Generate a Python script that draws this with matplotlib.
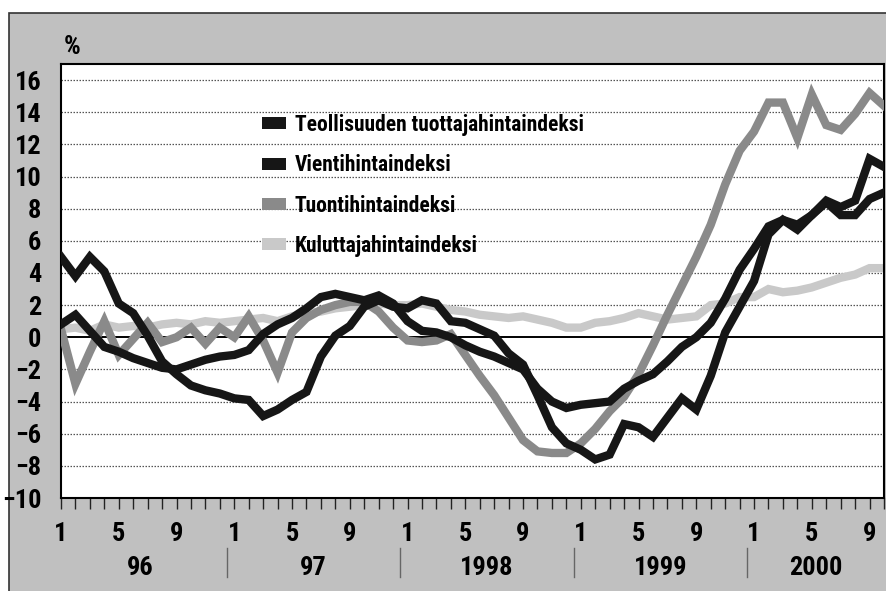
import matplotlib
matplotlib.use("Agg")
import matplotlib.pyplot as plt
from matplotlib import font_manager
from matplotlib.patches import Patch, Rectangle
import matplotlib.transforms as mtransforms
import numpy as np

# monthly observations, Jan 1996 .. Oct 2000
months = np.arange(58)

tuottaja = [0.8, 1.4, 0.4, -0.6, -0.9, -1.3, -1.6, -1.9, -2.0, -1.7,
            -1.4, -1.2, -1.1, -0.8, 0.2, 0.8, 1.2, 1.8, 2.5, 2.7,
            2.5, 2.3, 2.6, 2.1, 1.0, 0.4, 0.3, 0.0, -0.5, -0.9,
            -1.2, -1.6, -2.0, -3.2, -4.0, -4.4, -4.2, -4.1, -4.0, -3.2,
            -2.7, -2.3, -1.5, -0.6, 0.0, 0.9, 2.4, 4.2, 5.5, 6.9,
            7.3, 7.0, 7.6, 8.4, 7.6, 7.6, 8.6, 9.0]
vienti = [5.0, 3.8, 5.0, 4.1, 2.1, 1.5, 0.1, -1.5, -2.3, -3.0,
          -3.3, -3.5, -3.8, -3.9, -4.9, -4.5, -3.9, -3.4, -1.2, 0.1,
          0.7, 1.9, 2.3, 1.9, 1.8, 2.3, 2.1, 1.0, 0.9, 0.5,
          0.1, -1.0, -1.7, -3.6, -5.6, -6.6, -7.0, -7.6, -7.3, -5.4,
          -5.6, -6.2, -5.0, -3.8, -4.5, -2.4, 0.3, 1.9, 3.5, 6.4,
          7.3, 6.7, 7.6, 8.5, 8.1, 8.5, 11.1, 10.6]
tuonti = [0.5, -2.9, -0.9, 1.0, -1.1, -0.1, 0.9, -0.3, 0.0, 0.6,
          -0.4, 0.6, 0.0, 1.3, -0.2, -2.2, 0.3, 1.2, 1.7, 2.0,
          2.2, 2.2, 1.6, 0.6, -0.2, -0.3, -0.2, 0.2, -1.1, -2.4,
          -3.6, -5.0, -6.4, -7.1, -7.2, -7.2, -6.6, -5.7, -4.6, -3.7,
          -2.3, -0.5, 1.4, 3.2, 5.0, 7.0, 9.5, 11.6, 12.8, 14.6,
          14.6, 12.4, 15.1, 13.2, 12.9, 13.9, 15.2, 14.4]
kuluttaja = [0.5, 0.6, 0.4, 0.8, 0.6, 0.7, 0.6, 0.8, 0.9, 0.8,
             1.0, 0.9, 1.0, 1.1, 1.2, 1.0, 1.3, 1.5, 1.6, 1.8,
             1.9, 2.0, 2.1, 2.0, 2.0, 2.1, 1.9, 1.7, 1.6, 1.4,
             1.3, 1.2, 1.3, 1.1, 0.9, 0.6, 0.6, 0.9, 1.0, 1.2,
             1.5, 1.3, 1.1, 1.2, 1.3, 2.0, 2.1, 2.5, 2.5, 3.0,
             2.8, 2.9, 3.1, 3.4, 3.7, 3.9, 4.3, 4.3]

series_names = ["Teollisuuden tuottajahintaindeksi", "Vientihintaindeksi",
                "Tuontihintaindeksi", "Kuluttajahintaindeksi"]
year_labels = ["96", "97", "1998", "1999", "2000"]
month_labels = ["1", "5", "9"]

BLACK = "#161616"
DARK_GREY = "#8a8a8a"
LIGHT_GREY = "#c9c9c9"
PANEL = "#c0c0c0"

# pick the narrowest installed family
installed = {f.name for f in font_manager.fontManager.ttflist}
for name in ["Liberation Sans Narrow", "Roboto Condensed", "Open Sans Condensed",
             "DejaVu Sans Condensed", "DejaVu Sans"]:
    if name in installed:
        plt.rcParams["font.family"] = [name, "DejaVu Sans"]
        break
plt.rcParams["font.stretch"] = "condensed"
plt.rcParams["font.weight"] = "bold"

TICK_SIZE = 19

fig = plt.figure(figsize=(8.87, 5.91), dpi=100)
fig.patch.set_facecolor("white")
panel = Rectangle((9 / 887, -0.01), 1.0, (591 - 13) / 591 + 0.01,
                  transform=fig.transFigure, facecolor=PANEL,
                  edgecolor="#333333", linewidth=1.2, zorder=-5)
fig.add_artist(panel)

ax = fig.add_axes([61 / 887, (591 - 498) / 591, 823 / 887, 434 / 591])
ax.set_zorder(2)
ax.set_facecolor("white")

xmax = 57
ax.set_xlim(0, xmax)
ax.set_ylim(-10, 17)

for y in range(-8, 17, 2):
    if y == 0:
        ax.axhline(0, color="black", linewidth=1.4, zorder=1)
    else:
        ax.axhline(y, color="#555555", linewidth=0.9, linestyle=(0, (1.2, 1.2)), zorder=1)

lw = 6.0
ax.plot(months, kuluttaja, color=LIGHT_GREY, linewidth=lw, zorder=2, solid_joinstyle="miter")
ax.plot(months, tuonti, color=DARK_GREY, linewidth=lw, zorder=3, solid_joinstyle="miter")
ax.plot(months, tuottaja, color=BLACK, linewidth=lw, zorder=4, solid_joinstyle="miter")
ax.plot(months, vienti, color=BLACK, linewidth=lw, zorder=4, solid_joinstyle="miter")

# axes styling
for spine in ax.spines.values():
    spine.set_linewidth(1.5)
    spine.set_color("black")

ax.set_yticks(range(-10, 17, 2))
ax.tick_params(axis="y", length=0, pad=14, labelsize=TICK_SIZE)

ax.set_xticks(months, minor=True)
tick_pos = [i for i in months if i % 12 in (0, 4, 8)]
ax.set_xticks(tick_pos)
ax.set_xticklabels([month_labels[(i % 12) // 4] for i in tick_pos])
ax.tick_params(axis="x", which="both", direction="out", length=8, width=1.0,
               color="#222222", pad=9, labelsize=TICK_SIZE)

# year labels and separators under the month labels
trans = mtransforms.blended_transform_factory(ax.transData, ax.transAxes)
for k, label in enumerate(year_labels):
    start = k * 12 - 0.5
    end = min(start + 12, xmax)
    ax.text((start + end) / 2, -0.161, label,
            transform=trans, ha="center", va="center", fontsize=TICK_SIZE)
    if k:
        ax.plot([start, start], [-0.115, -0.182], transform=trans, color="#666666",
                linewidth=1.0, clip_on=False)

fig.text(64 / 887, (591 - 47) / 591, "%", ha="left", va="center", fontsize=TICK_SIZE)

handles = [Patch(facecolor=BLACK, edgecolor="none"),
           Patch(facecolor=BLACK, edgecolor="none"),
           Patch(facecolor=DARK_GREY, edgecolor="none"),
           Patch(facecolor=LIGHT_GREY, edgecolor="none")]
leg = ax.legend(handles, series_names, loc="upper left",
                bbox_to_anchor=((262 - 61) / 823, (498 - 114) / 434),
                frameon=False, fontsize=15.5, handlelength=1.1, handleheight=0.5,
                handletextpad=0.42, labelspacing=0.85, borderaxespad=0, borderpad=0)
leg.set_zorder(6)

fig.savefig("out.png", dpi=100, facecolor=fig.get_facecolor())
